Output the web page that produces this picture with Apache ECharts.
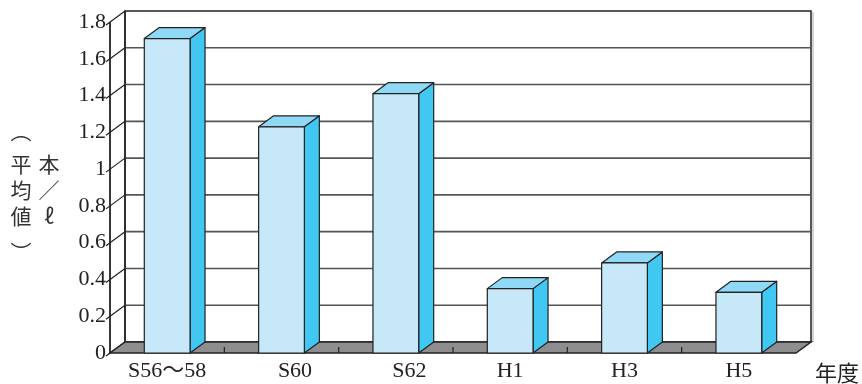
<!DOCTYPE html>
<html>
<head>
<meta charset="utf-8">
<title>平均値</title>
<script src="https://cdn.jsdelivr.net/npm/echarts@6/dist/echarts.min.js"></script>
<style>
  html, body { margin: 0; padding: 0; background: #fff; }
  #chart { width: 862px; height: 384px; }
</style>
</head>
<body>
<div id="chart"></div>
<script>
  // data
  var categories = ['S56〜58', 'S60', 'S62', 'H1', 'H3', 'H5'];
  var values = [1.71, 1.23, 1.41, 0.35, 0.49, 0.33];
  var yTicks = [0, 0.2, 0.4, 0.6, 0.8, 1, 1.2, 1.4, 1.6, 1.8];
  var yTitleLeft = ['平', '均', '値'];
  var yTitleRight = ['本', '／', 'ℓ'];
  var yTitleParens = ['︵', '︶'];
  var xName = '年度';

  // depth of the fake 3d box (px)
  var DX = 15;
  var DY = -11;
  var LINE = '#222';
  var SERIF = "'Liberation Serif', 'Noto Sans CJK JP', serif";
  var CJK = "'Noto Sans CJK JP', sans-serif";

  var myChart = echarts.init(document.getElementById('chart'), null, {renderer: 'canvas'});

  function renderFrame (params, api) {
    var cs = params.coordSys;
    var x0 = cs.x;
    var x1 = cs.x + cs.width;
    var yBottom = api.coord([0, 0])[1];
    var yTop = api.coord([0, yTicks[yTicks.length - 1]])[1];
    var children = [];
    // back wall
    children.push({
      type: 'rect',
      shape: {x: x0 + DX, y: yTop + DY, width: cs.width, height: yBottom - yTop},
      style: {fill: '#fff', stroke: LINE, lineWidth: 1.5}
    });
    // shadow on the right edge
    children.push({
      type: 'line',
      shape: {x1: x1 + DX + 2, y1: yTop + DY + 1, x2: x1 + DX + 2, y2: yBottom + DY},
      style: {stroke: '#d4d4d4', lineWidth: 2}
    });
    // grid lines on the back wall + diagonal ticks on the left wall
    for (var i = 1; i < yTicks.length - 1; i++) {
      var y = api.coord([0, yTicks[i]])[1];
      children.push({
        type: 'line',
        shape: {x1: x0 + DX, y1: y + DY, x2: x1 + DX, y2: y + DY},
        style: {stroke: '#555', lineWidth: 1.6}
      });
    }
    for (var j = 0; j < yTicks.length; j++) {
      var yy = api.coord([0, yTicks[j]])[1];
      children.push({
        type: 'line',
        shape: {x1: x0 - 4, y1: yy + 3, x2: x0 + DX, y2: yy + DY},
        style: {stroke: LINE, lineWidth: 1.2}
      });
    }
    // floor
    children.push({
      type: 'polygon',
      shape: {points: [[x0, yBottom], [x1, yBottom], [x1 + DX, yBottom + DY], [x0 + DX, yBottom + DY]]},
      style: {fill: '#8e8e91', stroke: LINE, lineWidth: 1.5}
    });
    // floor ticks at category boundaries
    var step = cs.width / categories.length;
    for (var k = 1; k < categories.length; k++) {
      var tx = x0 + step * k;
      children.push({
        type: 'line',
        shape: {x1: tx, y1: yBottom, x2: tx, y2: yBottom - 6},
        style: {stroke: LINE, lineWidth: 1.2}
      });
    }
    // left wall edges
    children.push({
      type: 'line',
      shape: {x1: x0 + DX, y1: yTop + DY, x2: x0 + DX, y2: yBottom + DY},
      style: {stroke: LINE, lineWidth: 1.5}
    });
    children.push({
      type: 'line',
      shape: {x1: x0, y1: yTop, x2: x0, y2: yBottom},
      style: {stroke: LINE, lineWidth: 1.8}
    });
    return {type: 'group', children: children};
  }

  function renderBar (params, api) {
    var idx = api.value(0);
    var val = api.value(1);
    var base = api.coord([idx, 0]);
    var top = api.coord([idx, val]);
    var w = api.size([1, 0])[0] * 0.4;
    var xa = base[0] - w / 2;
    var xb = base[0] + w / 2;
    var yt = top[1];
    var yb = base[1];
    var stroke = {stroke: LINE, lineWidth: 1.2, lineJoin: 'round'};
    return {
      type: 'group',
      children: [
        {
          type: 'polygon',
          shape: {points: [[xb, yt], [xb + DX, yt + DY], [xb + DX, yb + DY], [xb, yb]]},
          style: Object.assign({fill: '#40c7f2'}, stroke)
        },
        {
          type: 'polygon',
          shape: {points: [[xa, yt], [xa + DX, yt + DY], [xb + DX, yt + DY], [xb, yt]]},
          style: Object.assign({fill: '#8fd8f6'}, stroke)
        },
        {
          type: 'rect',
          shape: {x: xa, y: yt, width: w, height: yb - yt},
          style: Object.assign({fill: '#c6e8f9'}, stroke)
        }
      ]
    };
  }

  var barData = [];
  for (var i = 0; i < values.length; i++) {
    barData.push([i, values[i]]);
  }

  function titleText (text, x, y) {
    return {
      type: 'text',
      x: x,
      y: y,
      style: {
        text: text,
        font: '21px ' + CJK,
        lineHeight: 26,
        fill: '#333',
        align: 'center',
        verticalAlign: 'top'
      }
    };
  }

  myChart.setOption({
    animation: false,
    grid: {
      left: 110,
      right: 66,
      top: 22,
      bottom: 31,
      containLabel: false
    },
    xAxis: {
      type: 'category',
      data: categories,
      name: xName,
      nameLocation: 'end',
      nameGap: 19,
      nameTextStyle: {
        fontFamily: CJK,
        fontSize: 22,
        color: '#222',
        verticalAlign: 'top',
        padding: [9, 0, 0, 0]
      },
      axisLine: {show: false},
      axisTick: {show: false},
      axisLabel: {
        margin: 7,
        fontFamily: SERIF,
        fontSize: 22,
        color: '#222',
        formatter: function (value, index) {
          if (index === 1 || index === 2) {
            return '{s|' + value + '}';
          }
          return value;
        },
        rich: {
          s: {
            fontFamily: SERIF,
            fontSize: 22,
            color: '#222',
            padding: [0, 0, 0, 27]
          }
        }
      },
      splitLine: {show: false}
    },
    yAxis: {
      type: 'value',
      min: 0,
      max: 1.8,
      interval: 0.2,
      axisLine: {show: false},
      axisTick: {show: false},
      splitLine: {show: false},
      axisLabel: {
        margin: 4,
        fontFamily: SERIF,
        fontSize: 22,
        color: '#222',
        padding: [7, 0, 0, 0]
      }
    },
    graphic: [
      titleText(yTitleParens[0], 21, 118),
      titleText(yTitleLeft.join('\n'), 21, 151),
      titleText(yTitleParens[1], 21, 239),
      titleText(yTitleRight.join('\n'), 49, 151)
    ],
    series: [
      {
        type: 'custom',
        name: 'frame',
        renderItem: renderFrame,
        data: [[0, 0]],
        silent: true,
        z: 1
      },
      {
        type: 'custom',
        name: '平均値',
        renderItem: renderBar,
        encode: {x: 0, y: 1},
        data: barData,
        z: 2
      }
    ]
  });
</script>
</body>
</html>
